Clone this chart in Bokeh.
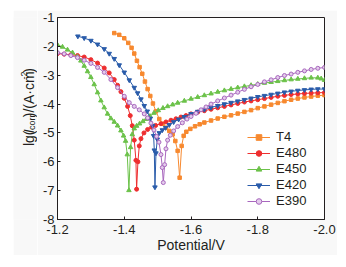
from bokeh.plotting import figure
from bokeh.layouts import row
from bokeh.models import Range1d, FixedTicker, PrintfTickFormatter, Legend
from bokeh.core.properties import value
from bokeh.embed import file_html
from bokeh.resources import INLINE
import math

# ---------------- data ----------------
series_names = ["T4", "E480", "E450", "E420", "E390"]

t4_E = [-1.370, -1.385, -1.400, -1.412, -1.422, -1.430, -1.438, -1.446, -1.454, -1.462,
        -1.470, -1.478, -1.486, -1.495, -1.505, -1.515, -1.525, -1.535, -1.545, -1.553,
        -1.560, -1.566,
        -1.572, -1.578, -1.586, -1.598, -1.612, -1.626, -1.64, -1.66, -1.68, -1.70, -1.72,
        -1.74, -1.76, -1.78, -1.80, -1.82, -1.84, -1.86, -1.88, -1.90, -1.92, -1.94, -1.96,
        -1.98, -2.00]
t4_I = [-1.54, -1.60, -1.72, -1.88, -2.05, -2.25, -2.50, -2.72, -2.95, -3.22,
        -3.48, -3.72, -3.98, -4.25, -4.52, -4.68, -4.82, -4.93, -5.05, -5.28,
        -5.62, -6.55,
        -5.45, -5.10, -4.96, -4.86, -4.77, -4.70, -4.64, -4.57, -4.50, -4.44, -4.39,
        -4.33, -4.27, -4.21, -4.14, -4.08, -4.02, -3.96, -3.90, -3.85, -3.81, -3.77, -3.74,
        -3.71, -3.69]

e480_E = [-1.20, -1.22, -1.24, -1.26, -1.28, -1.30, -1.32, -1.34, -1.355, -1.37, -1.38,
          -1.39, -1.40, -1.41, -1.418, -1.424, -1.430, -1.435, -1.437,
          -1.441, -1.445, -1.450, -1.459, -1.470, -1.482, -1.494, -1.51, -1.525, -1.54,
          -1.555, -1.57, -1.585, -1.60, -1.62, -1.64, -1.66, -1.68, -1.70, -1.72, -1.74,
          -1.76, -1.78, -1.80, -1.82, -1.84, -1.86, -1.88, -1.90, -1.92, -1.94, -1.96,
          -1.98, -2.00]
e480_I = [-2.25, -2.27, -2.29, -2.32, -2.37, -2.46, -2.58, -2.75, -2.92, -3.15, -3.35,
          -3.57, -3.80, -4.08, -4.40, -4.75, -5.25, -5.95, -6.95,
          -6.00, -5.45, -5.20, -5.00, -4.88, -4.80, -4.74, -4.68, -4.62, -4.56,
          -4.51, -4.45, -4.40, -4.34, -4.28, -4.23, -4.18, -4.13, -4.08, -4.03, -3.98,
          -3.93, -3.89, -3.85, -3.81, -3.77, -3.73, -3.70, -3.67, -3.65, -3.63, -3.62,
          -3.61, -3.60]

e450_E = [-1.20, -1.215, -1.23, -1.245, -1.26, -1.27, -1.28, -1.29, -1.30, -1.31, -1.32,
          -1.33, -1.34, -1.35, -1.36, -1.37, -1.38, -1.39, -1.398, -1.404, -1.409, -1.414,
          -1.419, -1.424, -1.430, -1.437, -1.446, -1.456, -1.466, -1.477, -1.489, -1.502,
          -1.516, -1.53, -1.545, -1.56, -1.58, -1.60, -1.62, -1.64, -1.66, -1.68, -1.70,
          -1.72, -1.74, -1.76, -1.78, -1.80, -1.82, -1.84, -1.86, -1.88, -1.90, -1.92,
          -1.94, -1.96, -1.98, -1.99, -2.00]
e450_I = [-1.95, -2.02, -2.12, -2.22, -2.36, -2.50, -2.68, -2.87, -3.07, -3.32, -3.60,
          -3.88, -4.12, -4.34, -4.50, -4.62, -4.75, -4.92, -5.10, -5.28, -5.75, -6.99,
          -5.50, -5.05, -4.85, -4.76, -4.68, -4.60, -4.52, -4.42, -4.31, -4.22,
          -4.14, -4.08, -4.02, -3.96, -3.89, -3.82, -3.76, -3.70, -3.64, -3.58, -3.53,
          -3.48, -3.43, -3.39, -3.35, -3.31, -3.27, -3.24, -3.21, -3.18, -3.15, -3.13,
          -3.11, -3.09, -3.09, -3.12, -3.17]

e420_E = [-1.261, -1.28, -1.30, -1.32, -1.34, -1.355, -1.37, -1.385, -1.40, -1.415, -1.43,
          -1.44, -1.45, -1.46, -1.469, -1.478, -1.485, -1.488, -1.490, -1.492,
          -1.495, -1.499, -1.505, -1.514, -1.524, -1.535, -1.548, -1.563, -1.58, -1.60,
          -1.62, -1.64, -1.66, -1.68, -1.70, -1.72, -1.74, -1.76, -1.78, -1.80, -1.82,
          -1.84, -1.86, -1.88, -1.90, -1.92, -1.94, -1.96, -1.98, -2.00]
e420_I = [-1.65, -1.71, -1.80, -1.93, -2.09, -2.25, -2.43, -2.65, -2.90, -3.17, -3.43,
          -3.62, -3.83, -4.06, -4.25, -4.50, -4.75, -5.10, -5.60, -6.88,
          -5.70, -5.22, -5.00, -4.90, -4.82, -4.72, -4.62, -4.53, -4.44, -4.34,
          -4.26, -4.19, -4.12, -4.06, -4.00, -3.95, -3.90, -3.85, -3.80, -3.75, -3.71,
          -3.67, -3.63, -3.59, -3.56, -3.53, -3.51, -3.49, -3.48, -3.48]

e390_E = [-1.20, -1.22, -1.24, -1.26, -1.28, -1.30, -1.32, -1.34, -1.36, -1.38, -1.40,
          -1.415, -1.43, -1.445, -1.46, -1.47, -1.48, -1.489, -1.497, -1.504, -1.510,
          -1.514, -1.517,
          -1.521, -1.525, -1.530, -1.538, -1.548, -1.56, -1.574, -1.588, -1.60, -1.615,
          -1.63, -1.645, -1.66, -1.68, -1.70, -1.72, -1.74, -1.76, -1.78, -1.80, -1.82,
          -1.84, -1.86, -1.88, -1.90, -1.92, -1.94, -1.96, -1.98, -2.00]
e390_I = [-2.22, -2.26, -2.32, -2.39, -2.48, -2.59, -2.73, -2.90, -3.15, -3.43, -3.73,
          -3.95, -4.08, -4.20, -4.34, -4.48, -4.66, -4.90, -5.12, -5.32, -5.75,
          -6.20, -6.72,
          -6.10, -5.55, -5.25, -5.08, -4.93, -4.78, -4.65, -4.52, -4.43, -4.32,
          -4.20, -4.10, -4.00, -3.89, -3.79, -3.69, -3.59, -3.49, -3.40, -3.32, -3.23,
          -3.16, -3.08, -3.01, -2.96, -2.90, -2.85, -2.80, -2.76, -2.73, -2.71]

x_ticks = [-1.2, -1.4, -1.6, -1.8, -2.0]
y_ticks = [-8, -7, -6, -5, -4, -3, -2, -1]

# y-axis title pieces: text, size, style, baseline offset
ylabel_pieces = ["lg(", "I", "corr", ")/(A·cm", "-2", ")"]

# ---------------- styling ----------------
FONT = "Liberation Sans"
TXT = "#231f20"
BG = "#f8f8f8"
colors = ["#F7892F", "#EE2E2F", "#6CC24A", "#2A5CAA", "#A867BE"]
markers = ["square", "circle", "triangle", "inverted_triangle", "circle"]
sizes = [3.5, 4, 4.5, 4.5, 4]
fills = ["#F7892F", "#EE2E2F", "#6CC24A", "#2A5CAA", "#E3CCEB"]

FIG_H = 245
p = figure(width=300, height=FIG_H, output_backend="svg", toolbar_location=None,
           x_range=Range1d(-1.2, -2.0), y_range=Range1d(-8, -1),
           min_border_left=20, min_border_right=13, min_border_top=7, min_border_bottom=36)
p.border_fill_color = BG
p.background_fill_color = "white"
p.outline_line_color = TXT
p.outline_line_width = 1
p.grid.visible = False

for ax in (p.xaxis, p.yaxis):
    ax.axis_line_color = TXT
    ax.major_tick_line_color = TXT
    ax.major_tick_in = 3
    ax.major_tick_out = 0
    ax.minor_tick_line_color = None
    ax.major_label_text_font = FONT
    ax.major_label_text_font_size = "13px"
    ax.major_label_text_color = TXT

p.xaxis.ticker = FixedTicker(ticks=x_ticks)
p.xaxis.formatter = PrintfTickFormatter(format="%.1f")
p.xaxis.major_label_standoff = 5
p.xaxis.axis_label = "Potential/V"
p.xaxis.axis_label_text_font = FONT
p.xaxis.axis_label_text_font_size = "14px"
p.xaxis.axis_label_text_font_style = "normal"
p.xaxis.axis_label_text_color = TXT
p.xaxis.axis_label_standoff = 0

p.yaxis.ticker = FixedTicker(ticks=y_ticks)
p.yaxis.formatter = PrintfTickFormatter(format="%d")
p.yaxis.major_label_standoff = 3

data = [(t4_E, t4_I), (e480_E, e480_I), (e450_E, e450_I), (e420_E, e420_I), (e390_E, e390_I)]
items = []
for name, (xs, ys), c, m, s, f in zip(series_names, data, colors, markers, sizes, fills):
    ln = p.line(xs, ys, line_color=c, line_width=1)
    sc = p.scatter(xs, ys, marker=m, size=s, line_color=c, fill_color=f, line_width=1)
    items.append((name, [ln, sc]))

legend = Legend(items=items, location=(190, 11), orientation="vertical")
legend.label_text_font = FONT
legend.label_text_font_size = "13px"
legend.label_text_color = TXT
legend.glyph_width = 23
legend.glyph_height = 14
legend.label_height = 14
legend.label_standoff = 6
legend.spacing = 1
legend.padding = 0
legend.margin = 0
legend.border_line_color = None
legend.background_fill_alpha = 0
p.add_layout(legend, "center")

# ---------------- y-axis title in a narrow side figure (page-pixel coordinates) ----------------
side = figure(width=24, height=FIG_H, output_backend="svg", toolbar_location=None,
              x_range=Range1d(13, 37), y_range=Range1d(255, 10),
              x_axis_location=None, y_axis_location=None,
              min_border=0, min_border_left=0, min_border_right=0,
              min_border_top=0, min_border_bottom=0)
side.grid.visible = False
side.outline_line_color = None
side.background_fill_color = BG
side.border_fill_color = BG

styles = [("14px", "normal", 28, 15.6), ("14px", "italic", 28, 3.9), ("9px", "normal", 31, 15.5),
          ("14px", "normal", 28, 45.9), ("9px", "normal", 23, 8.0), ("14px", "normal", 28, 4.7)]
pos = 166.0
for txt, (fs, st, bx, w) in zip(ylabel_pieces, styles):
    side.text(x=[bx], y=[pos], text=[txt], angle=math.pi / 2,
              text_font=value(FONT), text_font_size=value(fs), text_font_style=st,
              text_color=TXT, text_align="left", text_baseline="alphabetic")
    pos -= w

layout = row(side, p, spacing=0)
layout.margin = (10, 9, 12, 13)

open("out.html", "w").write(file_html(layout, INLINE))
